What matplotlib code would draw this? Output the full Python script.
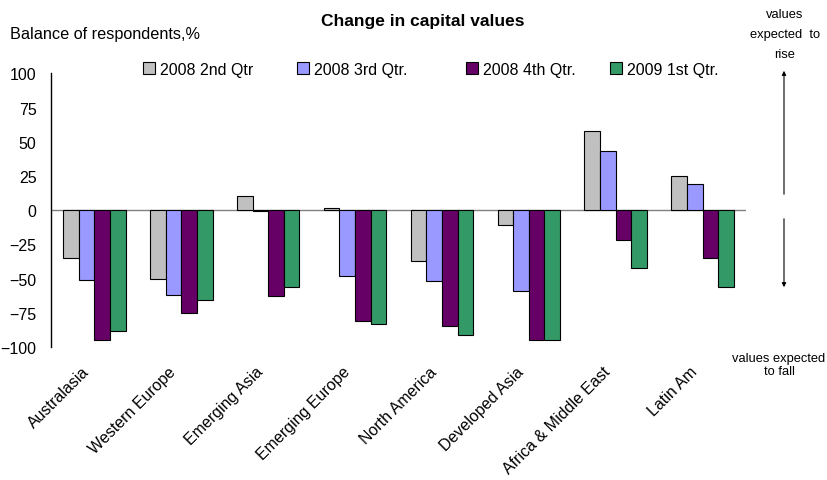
import numpy as np
import matplotlib
matplotlib.use("Agg")
import matplotlib.pyplot as plt
import matplotlib.transforms as mtrans

plt.rcParams['font.family'] = ['Liberation Sans', 'DejaVu Sans']

regions = ['Australasia', 'Western Europe', 'Emerging Asia', 'Emerging Europe',
           'North America', 'Developed Asia', 'Africa & Middle East', 'Latin Am']
series = ['2008 2nd Qtr', '2008 3rd Qtr.', '2008 4th Qtr.', '2009 1st Qtr.']
q2_2008 = [-35, -50, 10.5, 1.5, -37, -11, 58, 25]
q3_2008 = [-51, -62, -0.5, -48, -52, -59, 43, 19]
q4_2008 = [-95, -75, -63, -81, -85, -95, -22, -35]
q1_2009 = [-88, -66, -56, -83, -91, -95, -42, -56]
colors = ['#c0c0c0', '#9999ff', '#660066', '#339966']
yticks = [-100, -75, -50, -25, 0, 25, 50, 75, 100]

fig = plt.figure(figsize=(8.27, 4.81), dpi=100)
ax = fig.add_axes([0.0617, 0.2765, 0.8403, 0.569])

x = np.arange(len(regions))
w = 0.18
data = [q2_2008, q3_2008, q4_2008, q1_2009]
bars = []
for i, (vals, c, lab) in enumerate(zip(data, colors, series)):
    b = ax.bar(x + (i - 1.5) * w, vals, w, color=c, edgecolor='black', linewidth=0.8,
               label=lab, zorder=3)
    bars.append(b)

ax.axhline(0, color='#808080', linewidth=1, zorder=2)
ax.set_xlim(-0.5, len(regions) - 0.5)
ax.set_ylim(-100, 100)
ax.set_yticks(yticks)
ax.tick_params(axis='y', length=0, labelsize=11.5, pad=10.5)
ax.tick_params(axis='x', length=0, labelsize=11.5, pad=12)
ax.set_xticks(x)
ax.set_xticklabels(regions, rotation=45, ha='right', rotation_mode='anchor')
shift = mtrans.ScaledTranslation(-13 / 100, 0, fig.dpi_scale_trans)
for lbl in ax.get_xticklabels():
    lbl.set_transform(lbl.get_transform() + shift)
for s in ['top', 'right', 'bottom']:
    ax.spines[s].set_visible(False)
ax.spines['left'].set_linewidth(1)

# legend entries sit at uneven spacing in the original
leg_x = [143, 297, 466, 610]
for b, lab, px in zip(bars, series, leg_x):
    lg = fig.legend([b], [lab], loc='center left', bbox_to_anchor=(px / 827, 1 - 70 / 481),
                    frameon=False, fontsize=11.5, borderpad=0, borderaxespad=0,
                    handlelength=0.75, handleheight=0.75, handletextpad=0.3)

fig.text(0.012, 0.928, 'Balance of respondents,%', fontsize=11.7, va='center')
fig.text(0.511, 0.955, 'Change in capital values', fontsize=12.5, fontweight='bold',
         ha='center', va='center')
fig.text(0.949, 0.927, 'values\nexpected  to\nrise', fontsize=9.3, ha='center',
         va='center', linespacing=1.85)
fig.text(0.942, 0.24, 'values expected\nto fall', fontsize=9.3, ha='center',
         va='center', linespacing=1.2)

ax.annotate('', xy=(0.948, 1 - 69 / 481), xytext=(0.948, 1 - 198 / 481),
            xycoords='figure fraction', textcoords='figure fraction',
            arrowprops=dict(arrowstyle='-|>', color='black', lw=0.8, mutation_scale=6))
ax.annotate('', xy=(0.948, 1 - 291 / 481), xytext=(0.948, 1 - 217 / 481),
            xycoords='figure fraction', textcoords='figure fraction',
            arrowprops=dict(arrowstyle='-|>', color='black', lw=0.8, mutation_scale=6))

fig.savefig('out.png', dpi=100)
